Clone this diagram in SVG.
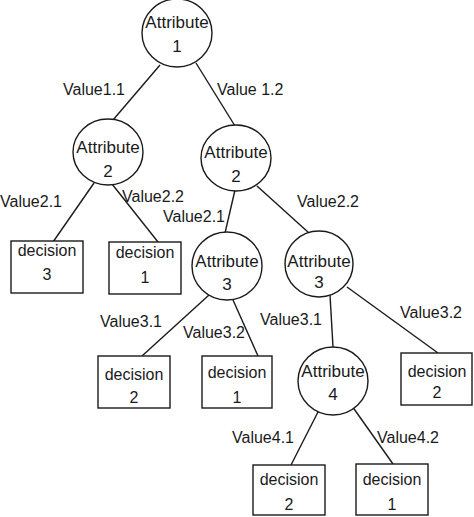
<svg xmlns="http://www.w3.org/2000/svg" width="474" height="517" viewBox="0 0 474 517">
<style>
.n{fill:#fff;stroke:#1a1a1a;stroke-width:1.4}
.e{stroke:#1a1a1a;stroke-width:1.4;fill:none}
.t{font-family:"Liberation Sans",Arial,sans-serif;font-size:16px;fill:#1a1a1a}
.c{text-anchor:middle}
.a{font-size:17px}
</style>
<rect width="474" height="517" fill="#fff"/>
<g id="connectors">
<line class="e" x1="160" y1="65" x2="113" y2="120"/>
<line class="e" x1="196" y1="63" x2="235" y2="126"/>
<line class="e" x1="94" y1="183" x2="53" y2="242"/>
<line class="e" x1="112" y1="184" x2="158" y2="242"/>
<line class="e" x1="235" y1="190" x2="225" y2="233"/>
<line class="e" x1="257" y1="186" x2="309" y2="233"/>
<line class="e" x1="209" y1="295" x2="142" y2="356"/>
<line class="e" x1="233" y1="300" x2="258" y2="356"/>
<line class="e" x1="330" y1="295" x2="333" y2="347"/>
<line class="e" x1="347" y1="287" x2="438" y2="353"/>
<line class="e" x1="319" y1="410" x2="291" y2="465"/>
<line class="e" x1="352" y1="406" x2="393" y2="464"/>
<text class="t" x="63" y="95">Value1.1</text>
<text class="t" x="217" y="95">Value 1.2</text>
<text class="t" x="0" y="207">Value2.1</text>
<text class="t" x="122" y="202">Value2.2</text>
<text class="t" x="163" y="222">Value2.1</text>
<text class="t" x="297" y="207">Value2.2</text>
<text class="t" x="100" y="327">Value3.1</text>
<text class="t" x="183" y="338">Value3.2</text>
<text class="t" x="260" y="325">Value3.1</text>
<text class="t" x="400" y="318">Value3.2</text>
<text class="t" x="232" y="443">Value4.1</text>
<text class="t" x="377" y="443">Value4.2</text>
</g>
<g id="attr1"><ellipse class="n" cx="177" cy="33" rx="35" ry="34"/><text class="t c a" x="177" y="28">Attribute</text><text class="t c a" x="177" y="52">1</text></g>
<g id="attr2a"><ellipse class="n" cx="108" cy="152" rx="35" ry="33"/><text class="t c a" x="108" y="153">Attribute</text><text class="t c a" x="108" y="177">2</text></g>
<g id="attr2b"><ellipse class="n" cx="236" cy="158" rx="35" ry="33"/><text class="t c a" x="236" y="158">Attribute</text><text class="t c a" x="236" y="182">2</text></g>
<g id="attr3a"><ellipse class="n" cx="227" cy="266" rx="35" ry="34"/><text class="t c a" x="227" y="267">Attribute</text><text class="t c a" x="227" y="290">3</text></g>
<g id="attr3b"><ellipse class="n" cx="319" cy="264" rx="34" ry="33"/><text class="t c a" x="319" y="267">Attribute</text><text class="t c a" x="319" y="288">3</text></g>
<g id="attr4"><ellipse class="n" cx="333" cy="381" rx="35" ry="34"/><text class="t c a" x="333" y="377">Attribute</text><text class="t c a" x="333" y="400">4</text></g>
<g id="dec3"><rect class="n" x="11" y="241" width="72" height="52"/><text class="t c" x="47" y="256">decision</text><text class="t c" x="47" y="280">3</text></g>
<g id="dec1a"><rect class="n" x="109" y="242" width="72" height="52"/><text class="t c" x="145" y="258">decision</text><text class="t c" x="145" y="283">1</text></g>
<g id="dec2a"><rect class="n" x="98" y="356" width="72" height="52"/><text class="t c" x="134" y="380">decision</text><text class="t c" x="134" y="403">2</text></g>
<g id="dec1b"><rect class="n" x="202" y="356" width="70" height="52"/><text class="t c" x="237" y="378">decision</text><text class="t c" x="237" y="403">1</text></g>
<g id="dec2b"><rect class="n" x="401" y="353" width="71" height="52"/><text class="t c" x="437" y="377">decision</text><text class="t c" x="437" y="398">2</text></g>
<g id="dec2c"><rect class="n" x="253" y="465" width="72" height="50"/><text class="t c" x="289" y="485">decision</text><text class="t c" x="289" y="510">2</text></g>
<g id="dec1c"><rect class="n" x="356" y="464" width="72" height="51"/><text class="t c" x="392" y="485">decision</text><text class="t c" x="392" y="510">1</text></g>
</svg>
